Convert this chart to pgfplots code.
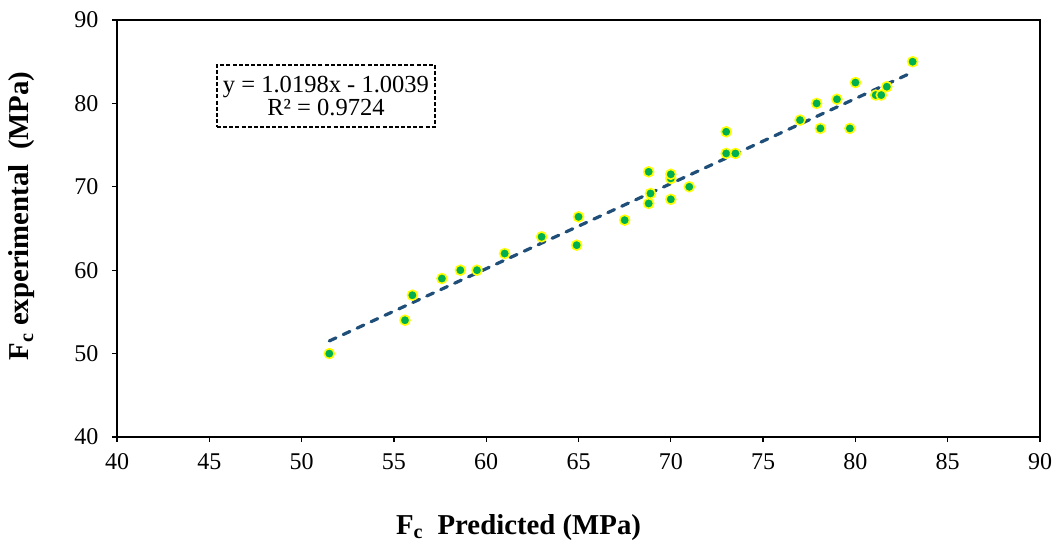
\documentclass[border=0pt]{standalone}
\usepackage{pgfplots}
\pgfplotsset{compat=1.18}
\usepackage{fontspec}
\setmainfont{Liberation Serif}
\definecolor{ptgreen}{RGB}{0,176,80}
\definecolor{ptyellow}{RGB}{255,255,0}
\definecolor{trend}{RGB}{31,78,121}
\begin{document}
\begin{tikzpicture}
\begin{axis}[
    scale only axis,
    width=692.25pt, height=312.75pt,
    xmin=40, xmax=90, ymin=40, ymax=90,
    xtick={40,45,...,90}, ytick={40,50,...,90},
    axis line style={line width=1pt},
    tick style={line width=1pt, black},
    major tick length=3.75pt,
    tick align=outside,
    xtick pos=bottom, ytick pos=left,
    /pgf/number format/assume math mode=true,
    ticklabel style={font=\fontsize{18}{21}\selectfont},
    xticklabel style={yshift=-5.3pt},
    yticklabel style={xshift=-6.6pt},
    xlabel={\textbf{F\textsubscript{c}\ \ Predicted (MPa)}},
    ylabel={\textbf{F\textsubscript{c} experimental\ \ (MPa)}},
    label style={font=\fontsize{21.6}{25}\selectfont},
    xlabel style={at={(axis description cs:0.435,-0.233)}, anchor=base},
    ylabel style={at={(axis description cs:-0.103,0.53)}, anchor=center, rotate=0},
    clip=false,
]
\addplot[only marks, mark=*, mark size=3.7pt,
    mark options={fill=ptgreen, draw=ptyellow, line width=1.2pt}]
coordinates {
(51.5,50) (55.6,54) (56,57) (57.6,59) (58.6,60) (59.5,60)
(61,62) (63,64) (64.9,63) (65,66.4) (67.5,66)
(68.8,71.8) (68.8,68) (68.9,69.2) (70,71) (70,71.5) (70,68.5) (71,70)
(73,76.6) (73,74) (73.5,74)
(77,78) (77.9,80) (78.1,77) (79,80.5) (79.7,77) (80,82.5)
(81.1,81) (81.4,81) (81.7,82) (83.1,85)
};
\addplot[trend, line width=2.4pt, line cap=round,
    dash pattern=on 5.5pt off 6pt]
coordinates {(51.5,51.5158) (83.1,83.7415)};
\node[draw, line width=0.9pt, dash pattern=on 3pt off 1.6pt,
    align=center, inner sep=0pt,
    minimum width=163.5pt, minimum height=46.5pt,
    font=\fontsize{18.4}{17.8}\selectfont]
    at (axis cs:51.32,80.89) {y = 1.0198x - 1.0039\\R² = 0.9724};
\path (rel axis cs:0,0) ++(-87.75pt,-78pt) coordinate (bbsw);
\path (rel axis cs:1,1) ++(9.75pt,15pt) coordinate (bbne);
\end{axis}
\pgfresetboundingbox
\useasboundingbox (bbsw) rectangle (bbne);
\end{tikzpicture}
\end{document}
